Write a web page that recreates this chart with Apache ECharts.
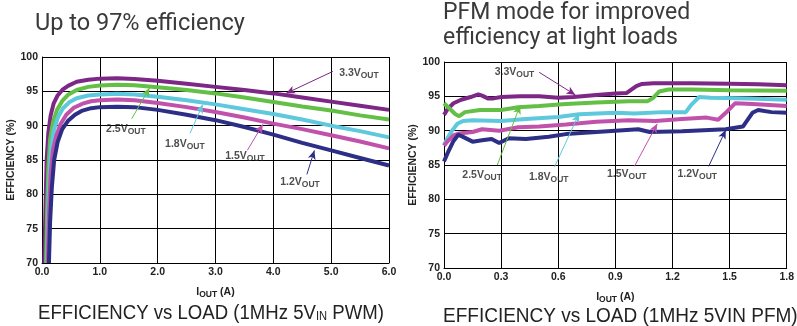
<!DOCTYPE html>
<html>
<head>
<meta charset="utf-8">
<script src="https://cdn.jsdelivr.net/npm/echarts@6/dist/echarts.min.js"></script>
<style>html,body{margin:0;padding:0;background:#fff}#chart{width:797px;height:326px}</style>
</head>
<body>
<div id="chart"></div>
<script>
// 曲线名称与颜色 (Vout)
const curveNames = ['3.3', '2.5', '1.8', '1.5', '1.2'];
const curveColors = ['#7d2787', '#63bf45', '#5ec8dc', '#c152ab', '#2c2f85'];

// 左图 PWM: [Iout(A), 效率(%)]
const pwm33 = [[0.04,70],[0.06,78],[0.08,85],[0.11,89],[0.15,91.5],[0.2,93.2],[0.27,94.4],[0.35,95.2],[0.45,95.8],[0.6,96.4],[0.8,96.7],[1.0,96.85],[1.3,96.9],[1.6,96.8],[2.0,96.55],[2.5,96.1],[3.0,95.65],[3.5,95.2],[4.0,94.7],[4.5,94.1],[5.0,93.5],[5.5,92.9],[6.0,92.3]];
const pwm25 = [[0.07,70],[0.09,78],[0.11,84],[0.14,88],[0.19,90.5],[0.26,92.3],[0.35,93.6],[0.45,94.5],[0.6,95.2],[0.8,95.65],[1.0,95.85],[1.3,95.95],[1.6,95.9],[2.0,95.6],[2.5,95.2],[3.0,94.7],[3.5,94.1],[4.0,93.45],[4.5,92.8],[5.0,92.2],[5.5,91.5],[6.0,90.9]];
const pwm18 = [[0.09,70],[0.11,78],[0.13,83],[0.16,87],[0.21,89.5],[0.28,91.3],[0.36,92.5],[0.47,93.4],[0.6,94.0],[0.8,94.4],[1.0,94.55],[1.3,94.65],[1.6,94.55],[2.0,94.2],[2.5,93.7],[3.0,93.1],[3.5,92.4],[4.0,91.7],[4.5,90.9],[5.0,90.0],[5.5,89.2],[6.0,88.3]];
const pwm15 = [[0.1,70],[0.12,77],[0.15,83],[0.19,86.5],[0.25,88.6],[0.32,90.2],[0.42,91.6],[0.55,92.6],[0.7,93.2],[0.85,93.55],[1.0,93.7],[1.3,93.8],[1.6,93.7],[2.0,93.3],[2.5,92.7],[3.0,92.0],[3.5,91.2],[4.0,90.3],[4.5,89.5],[5.0,88.6],[5.5,87.7],[6.0,86.7]];
const pwm12 = [[0.12,70],[0.14,76],[0.17,81],[0.21,85],[0.27,87.6],[0.35,89.5],[0.45,90.7],[0.57,91.6],[0.7,92.2],[0.85,92.55],[1.0,92.7],[1.3,92.75],[1.6,92.7],[2.0,92.3],[2.5,91.6],[3.0,90.8],[3.5,89.8],[4.0,88.7],[4.5,87.5],[5.0,86.4],[5.5,85.3],[6.0,84.2]];

// 右图 PFM
const pfm33 = [[0,92.3],[0.02,93.2],[0.05,94.0],[0.09,94.5],[0.14,94.9],[0.18,95.3],[0.2,95.1],[0.23,94.7],[0.26,94.7],[0.3,94.9],[0.4,95.0],[0.5,95.0],[0.6,94.8],[0.68,94.9],[0.8,95.2],[0.9,95.4],[0.96,95.5],[1.01,96.5],[1.04,96.8],[1.1,96.9],[1.3,96.9],[1.5,96.85],[1.65,96.75],[1.8,96.6]];
const pfm25 = [[0,94.0],[0.03,93.2],[0.06,92.4],[0.08,92.1],[0.11,92.7],[0.19,93.0],[0.3,93.0],[0.39,93.4],[0.5,93.6],[0.64,93.9],[0.8,94.1],[0.97,94.3],[1.07,94.3],[1.1,94.8],[1.13,95.7],[1.18,96.0],[1.3,96.0],[1.5,95.9],[1.8,95.8]];
const pfm18 = [[0,87.9],[0.02,89.0],[0.04,89.9],[0.07,91.0],[0.1,91.4],[0.15,91.5],[0.3,91.4],[0.43,91.7],[0.6,92.0],[0.71,92.4],[0.9,92.6],[1.0,92.5],[1.15,92.7],[1.27,92.7],[1.3,93.8],[1.34,94.9],[1.4,94.8],[1.6,94.7],[1.8,94.5]];
const pfm15 = [[0,87.8],[0.02,88.5],[0.05,89.3],[0.08,89.6],[0.15,89.8],[0.2,90.2],[0.29,90.0],[0.39,90.5],[0.5,90.6],[0.64,90.9],[0.8,91.3],[0.97,91.5],[1.11,91.4],[1.25,91.7],[1.38,91.9],[1.44,91.6],[1.48,92.6],[1.53,94.0],[1.62,93.9],[1.8,93.6]];
const pfm12 = [[0,85.5],[0.02,86.8],[0.05,88.5],[0.075,89.4],[0.1,89.1],[0.15,88.4],[0.2,88.6],[0.25,88.8],[0.29,88.2],[0.34,88.9],[0.43,88.8],[0.55,89.1],[0.64,89.5],[0.8,89.8],[1.02,90.2],[1.08,89.8],[1.25,89.9],[1.48,90.2],[1.57,90.6],[1.62,92.6],[1.65,93.0],[1.72,92.7],[1.8,92.6]];

// 标注: 文字中心 / 箭头起点 / 箭头终点 (数据坐标)
const pwmNoteText = [[5.48,97.7],[1.45,89.5],[2.47,87.3],[3.51,85.5],[4.46,81.8]];
const pwmNoteFrom = [[5.03,97.9],[1.55,91.0],[2.56,88.9],[3.55,86.4],[4.58,82.9]];
const pwmNoteTo = [[4.22,94.7],[1.86,95.5],[2.78,93.1],[3.82,90.2],[4.71,86.4]];
const pfmNoteText = [[0.37,98.5],[0.20,83.5],[0.55,83.2],[0.96,83.7],[1.33,83.7]];
const pfmNoteFrom = [[0.50,98.5],[0.28,85.0],[0.58,84.7],[1.0,84.8],[1.39,84.8]];
const pfmNoteTo = [[0.69,95.2],[0.40,93.7],[0.71,92.5],[1.12,91.0],[1.48,90.1]];

const pwmData = [pwm33, pwm25, pwm18, pwm15, pwm12];
const pfmData = [pfm33, pfm25, pfm18, pfm15, pfm12];

const axisFont = 'Liberation Sans, Arial, sans-serif';
const smallRich = {
    a: {fontSize: 10.5, fontWeight: 'bold', color: '#222', fontFamily: axisFont},
    s: {fontSize: 8.5, fontWeight: 'bold', color: '#222', fontFamily: axisFont, padding: [5, 0, 0, 0]}
};

function makeYAxis(gi, gap) {
    return {
        gridIndex: gi, type: 'value', min: 70, max: 100, interval: 5,
        axisLine: {show: true, lineStyle: {color: '#000', width: 1}},
        axisTick: {show: false},
        splitLine: {lineStyle: {color: '#000', width: 1}},
        axisLabel: {color: '#222', fontWeight: 'bold', fontSize: 10.5, fontFamily: axisFont, margin: 4},
        name: 'EFFICIENCY (%)', nameLocation: 'middle', nameGap: gap,
        nameTextStyle: {color: '#222', fontWeight: 'bold', fontSize: 10.5, fontFamily: axisFont}
    };
}
function makeXAxis(gi, max, step) {
    return {
        gridIndex: gi, type: 'value', min: 0, max: max, interval: step,
        axisLine: {show: true, onZero: false, lineStyle: {color: '#000', width: 1}},
        axisTick: {show: false},
        splitLine: {show: true, lineStyle: {color: '#000', width: 1}},
        axisLabel: {color: '#222', fontWeight: 'bold', fontSize: 10.5, fontFamily: axisFont, margin: 4,
            formatter: v => v.toFixed(1)},
        name: '{a|I}{s|OUT}{a| (A)}', nameLocation: 'middle', nameGap: 22,
        nameTextStyle: {rich: smallRich}
    };
}

function lineSeries(list, gi) {
    return list.map((d, i) => ({
        type: 'line', xAxisIndex: gi, yAxisIndex: gi, data: d,
        showSymbol: false, silent: true, z: 3,
        lineStyle: {color: curveColors[i], width: 4},
        itemStyle: {color: curveColors[i]}
    }));
}
function noteSeries(textPos, from, to, gi) {
    return {
        type: 'scatter', xAxisIndex: gi, yAxisIndex: gi, symbolSize: 0, silent: true, z: 5,
        data: textPos.map((p, i) => ({name: curveNames[i], value: p})),
        label: {show: true, position: 'inside',
            formatter: p => '{a|' + p.name + 'V}{s|OUT}',
            rich: smallRich},
        markLine: {
            silent: true, symbol: ['none', 'arrow'], symbolSize: [6, 9],
            label: {show: false},
            data: from.map((f, i) => [
                {coord: f, lineStyle: {color: curveColors[i], width: 1, type: 'solid'}, itemStyle: {color: curveColors[i]}},
                {coord: to[i]}
            ])
        }
    };
}

const chart = echarts.init(document.getElementById('chart'));
const titleFont = 'Roboto, "Open Sans", sans-serif';
const capFont = '"Liberation Sans", Arial, sans-serif';
option = {
    animation: false,
    grid: [
        {left: 42, top: 57, width: 347, height: 206},
        {left: 444, top: 62, width: 347, height: 206}
    ],
    xAxis: [makeXAxis(0, 6, 1), makeXAxis(1, 1.8, 0.3)],
    yAxis: [makeYAxis(0, 24), makeYAxis(1, 25)],
    graphic: [
        {type: 'text', x: 35, y: 24, style: {text: 'Up to 97% efficiency', font: '23.5px ' + titleFont, fill: '#3a3a3a', verticalAlign: 'middle'}},
        {type: 'text', x: 443, y: 13, style: {text: 'PFM mode for improved', font: '23px ' + titleFont, fill: '#3a3a3a', verticalAlign: 'middle'}},
        {type: 'text', x: 443, y: 38, style: {text: 'efficiency at light loads', font: '23px ' + titleFont, fill: '#3a3a3a', verticalAlign: 'middle'}},
        {type: 'text', x: 38, y: 313, scaleX: 0.93, style: {
            text: '{t|EFFICIENCY vs LOAD (1MHz 5V}{s|IN}{t| PWM)}', verticalAlign: 'middle',
            rich: {t: {fontSize: 20, fontFamily: capFont, fill: '#222'}, s: {fontSize: 12, fontFamily: capFont, fill: '#222', padding: [8, 0, 0, 0]}}
        }},
        {type: 'text', x: 443, y: 316, scaleX: 0.95, style: {text: 'EFFICIENCY vs LOAD (1MHz 5VIN PFM)', font: '20px ' + capFont, fill: '#222', verticalAlign: 'middle'}}
    ],
    series: [
        ...lineSeries(pwmData, 0),
        ...lineSeries(pfmData, 1),
        noteSeries(pwmNoteText, pwmNoteFrom, pwmNoteTo, 0),
        noteSeries(pfmNoteText, pfmNoteFrom, pfmNoteTo, 1)
    ]
};
chart.setOption(option);
</script>
</body>
</html>
